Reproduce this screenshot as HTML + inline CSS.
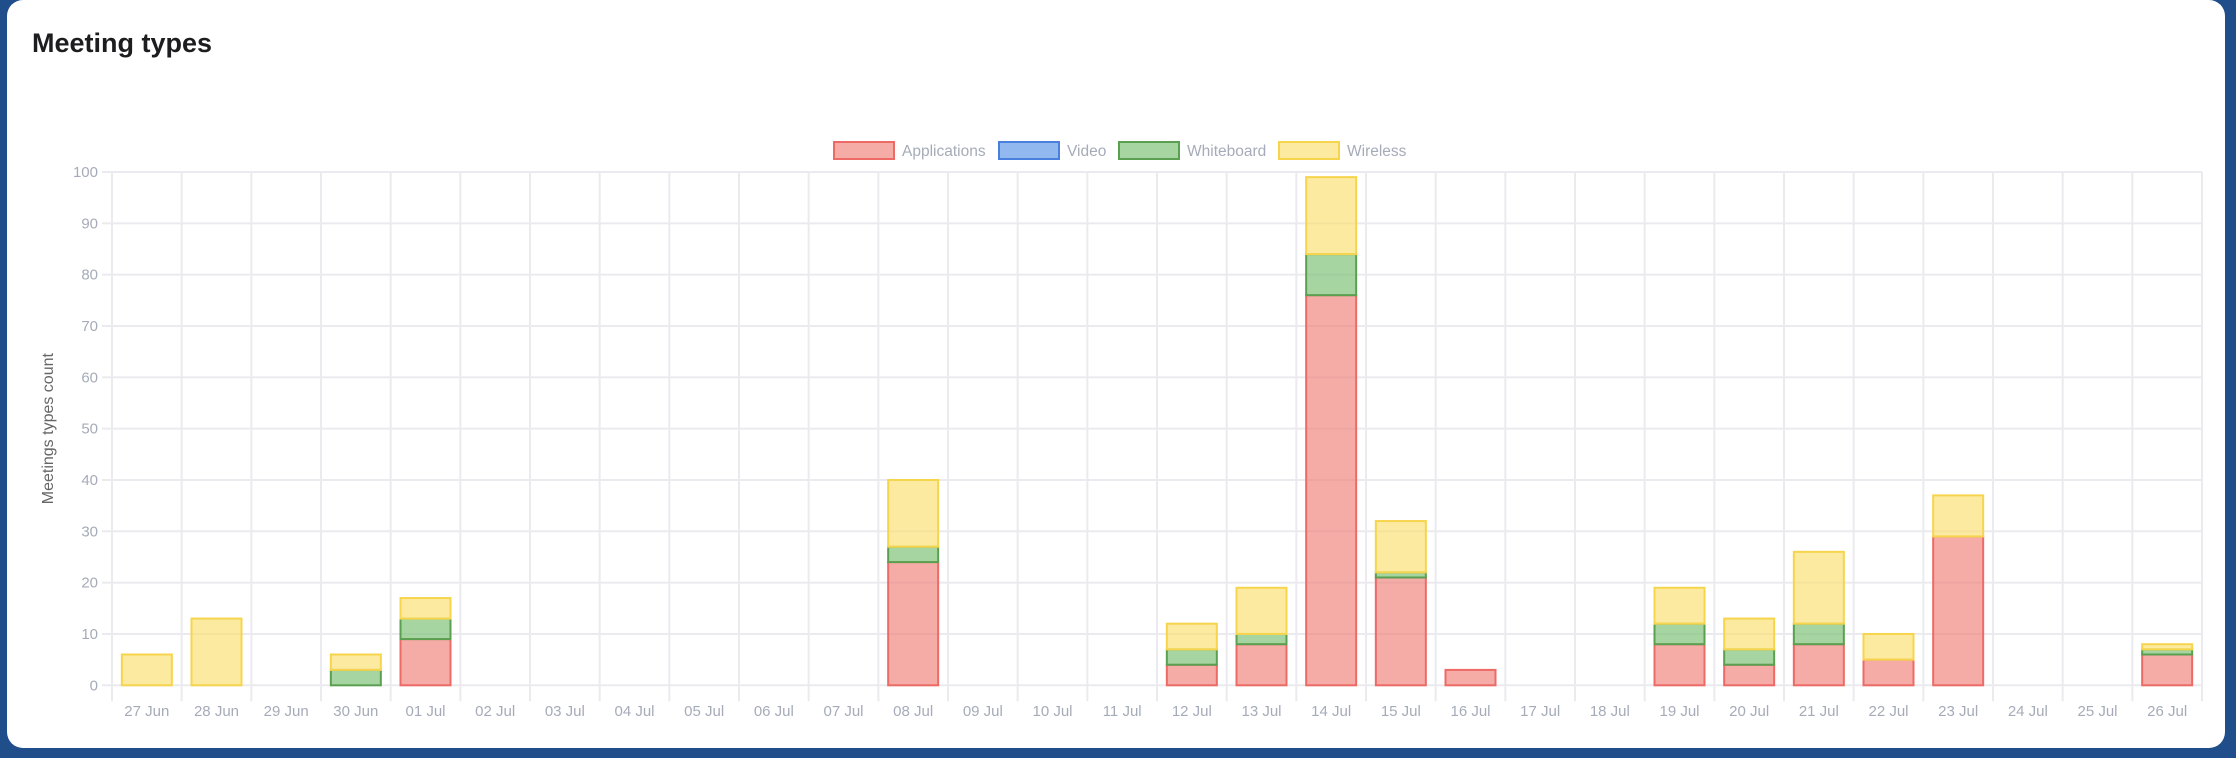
<!DOCTYPE html>
<html><head><meta charset="utf-8">
<style>
html,body{margin:0;padding:0;width:2236px;height:758px;overflow:hidden;background:#1f4e8a;font-family:"Liberation Sans",sans-serif;}
#card{position:absolute;left:7px;top:0;width:2218px;height:748px;background:#fff;border-radius:16px;}
#title{position:absolute;left:25px;top:28px;font-size:27px;font-weight:bold;color:#1d1d1f;margin:0;}
svg{position:absolute;left:0;top:0;}
</style></head><body>
<div id="card">
<h2 id="title">Meeting types</h2>
</div>
<svg id="chart" width="2236" height="758"></svg>
<script>
const categories=["27 Jun","28 Jun","29 Jun","30 Jun","01 Jul","02 Jul","03 Jul","04 Jul","05 Jul","06 Jul","07 Jul","08 Jul","09 Jul","10 Jul","11 Jul","12 Jul","13 Jul","14 Jul","15 Jul","16 Jul","17 Jul","18 Jul","19 Jul","20 Jul","21 Jul","22 Jul","23 Jul","24 Jul","25 Jul","26 Jul"];
const applications=[0,0,0,0,9,0,0,0,0,0,0,24,0,0,0,4,8,76,21,3,0,0,8,4,8,5,29,0,0,6];
const video=[0,0,0,0,0,0,0,0,0,0,0,0,0,0,0,0,0,0,0,0,0,0,0,0,0,0,0,0,0,0];
const whiteboard=[0,0,0,3,4,0,0,0,0,0,0,3,0,0,0,3,2,8,1,0,0,0,4,3,4,0,0,0,0,1];
const wireless=[6,13,0,3,4,0,0,0,0,0,0,13,0,0,0,5,9,15,10,0,0,0,7,6,14,5,8,0,0,1];
const yTicks=[0,10,20,30,40,50,60,70,80,90,100];
const seriesNames=["Applications","Video","Whiteboard","Wireless"];

const NS="http://www.w3.org/2000/svg";
const svg=document.getElementById('chart');
const L=112,R=2202,T=172,B=685.3,yMax=100;
const bw=(R-L)/categories.length;
const y=v=>B-(v/yMax)*(B-T);
const xC=i=>L+bw*(i+0.5);
const styles=[{f:"rgba(240,128,120,0.65)",s:"#ee6a66"},{f:"rgba(110,160,235,0.75)",s:"#4a80dd"},{f:"rgba(120,190,110,0.65)",s:"#5aa050"},{f:"rgba(250,222,110,0.65)",s:"#f6d54d"}];
function el(t,a,txt){const e=document.createElementNS(NS,t);for(const k in a)e.setAttribute(k,a[k]);if(txt!==undefined)e.textContent=txt;svg.appendChild(e);return e;}

yTicks.forEach(v=>{
 const g=el('line',{x1:L-10,x2:R,y1:y(v),y2:y(v),stroke:'#ebebef','stroke-width':2});
 
 
 const t=el('text',{x:L-14,y:y(v)+5,'text-anchor':'end','font-size':15,fill:'#a5abb8'},String(v));
 
 
});
for(let i=0;i<=categories.length;i++){
 const g=el('line',{x1:L+bw*i,x2:L+bw*i,y1:T,y2:B+16,stroke:'#ebebef','stroke-width':2});
 
 
}
categories.forEach((c,i)=>{
 const t=el('text',{x:xC(i),y:716,'text-anchor':'middle','font-size':15,fill:'#a5abb8'},c);
 
 
});
const at=el('text',{x:0,y:0,'text-anchor':'middle','font-size':16,fill:'#666',transform:`translate(53,${(T+B)/2}) rotate(-90)`},'Meetings types count');



const series=[applications,video,whiteboard,wireless];
const barW=50;
categories.forEach((c,i)=>{
 let base=0;
 series.forEach((arr,s)=>{
  const v=arr[i];
  if(v>0){
   const r=el('rect',{x:xC(i)-barW/2,y:y(base+v),width:barW,height:y(base)-y(base+v),fill:styles[s].f,stroke:styles[s].s,'stroke-width':2});
   
   
  }
  base+=v;
 });
});

const legX=[834,999,1119,1279];
seriesNames.forEach((n,s)=>{
 const r=el('rect',{x:legX[s],y:142,width:60,height:17,fill:styles[s].f,stroke:styles[s].s,'stroke-width':2});
 
 
 const t=el('text',{x:legX[s]+68,y:156,'font-size':15.5,fill:'#a5abb8'},n);
 
 
});
</script>
</body></html>
